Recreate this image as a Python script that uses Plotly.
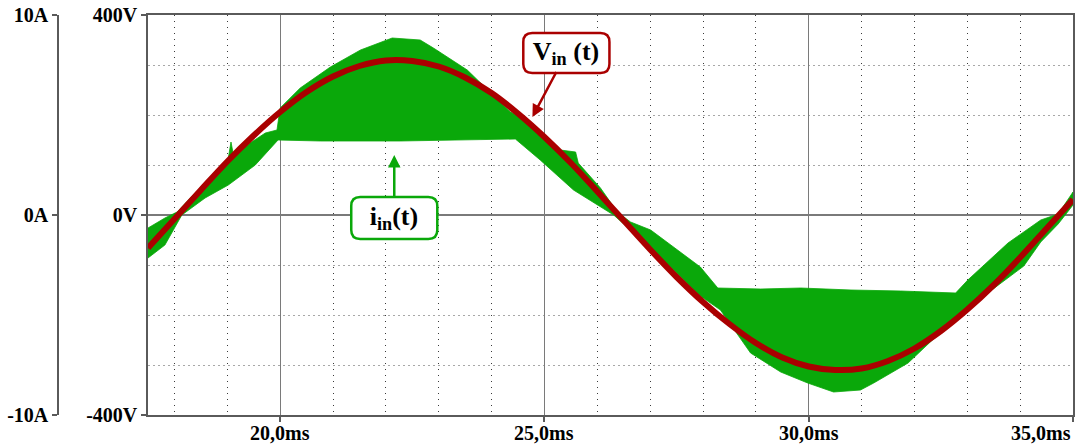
import plotly.graph_objects as go

# ---------------- data ----------------
# input voltage V_in(t): time [ms], voltage [V]
vin_t = [17.5, 18.0, 18.5, 19.0, 19.5, 20.0, 20.5, 21.0, 21.5, 22.0, 22.5, 23.0,
         23.5, 24.0, 24.5, 25.0, 25.5, 26.0, 26.5, 27.0, 27.5, 28.0, 28.5, 29.0,
         29.5, 30.0, 30.5, 31.0, 31.5, 32.0, 32.5, 33.0, 33.5, 34.0, 34.5, 35.0]
vin_v = [-66, -8, 50, 107, 159, 206, 246, 277, 298, 309, 308, 297,
         275, 244, 203, 156, 104, 47, -11, -69, -124, -174, -218, -256,
         -285, -303, -310, -307, -292, -267, -232, -189, -140, -85, -27, 31]

# input current i_in(t): switching ripple band, upper envelope [ms, A]
iup_t = [17.50, 17.82, 18.05, 18.48, 19.02, 19.07, 19.12, 19.43, 19.72, 19.94, 20.00,
         20.38, 20.95, 21.52, 22.12, 22.65, 22.90, 23.54, 24.17, 24.36, 24.79,
         25.30, 25.59, 25.64, 26.06, 26.38, 26.63, 27.01, 27.95, 28.28, 29.09,
         29.85, 30.80, 31.74, 32.78, 33.01, 33.77, 34.39, 34.72, 35.00]
iup_a = [-0.65, -0.15, 0.15, 1.35, 2.85, 3.65, 2.95, 3.60, 4.10, 4.25, 5.35,
         6.35, 7.40, 8.25, 8.85, 8.75, 8.35, 7.25, 5.65, 5.15, 4.55,
         3.25, 3.15, 2.60, 1.35, 0.15, -0.35, -0.75, -2.60, -3.65, -3.70,
         -3.65, -3.75, -3.80, -3.90, -3.25, -1.40, -0.25, 0.05, 1.15]
# lower envelope [ms, A]
ilo_t = [17.50, 17.82, 18.14, 18.58, 19.02, 19.53, 19.96, 20.76, 22.27, 23.41,
         24.45, 24.92, 25.55, 26.31, 26.63, 27.01, 27.95, 28.33, 28.90, 29.47,
         29.98, 30.47, 30.98, 31.23, 31.88, 32.50, 33.01, 33.64, 34.07, 34.39,
         34.72, 35.00]
ilo_a = [-2.15, -1.50, 0.00, 0.85, 1.50, 2.50, 3.75, 3.70, 3.70, 3.75,
         3.80, 2.75, 1.25, 0.00, -0.75, -1.65, -4.05, -4.75, -6.90, -7.85,
         -8.40, -8.85, -8.75, -8.40, -7.40, -5.85, -4.65, -3.40, -2.55, -1.35,
         -0.45, 0.50]

x_tickvals = [20, 25, 30, 35]
x_ticktext = ["20,0ms", "25,0ms", "30,0ms", "35,0ms"]
v_tickvals = [-400, 0, 400]
v_ticktext = ["-400V", "0V", "400V"]
a_tickvals = [-10, 0, 10]
a_ticktext = ["-10A", "0A", "10A"]

# ---------------- styles ----------------
GREEN = "rgb(10,168,10)"
RED = "rgb(170,0,0)"
AXIS = "#5a5a5a"
FONT = dict(family="Liberation Serif", size=20, color="black", weight="bold")

fig = go.Figure()

# current band (base axis = amps)
fig.add_trace(go.Scatter(
    x=iup_t + ilo_t[::-1], y=iup_a + ilo_a[::-1],
    mode="lines", fill="toself", fillcolor=GREEN,
    line=dict(color=GREEN, width=0.8),
    xaxis="x", yaxis="y", hoverinfo="skip", showlegend=False))

# voltage (overlay axis = volts)
fig.add_trace(go.Scatter(
    x=vin_t, y=vin_v, mode="lines",
    line=dict(color=RED, width=6, shape="spline", smoothing=1.0),
    xaxis="x", yaxis="y2", showlegend=False))


def rrect(x0, x1, y0, y1, rx, ry):
    return (f"M {x0+rx},{y1} L {x1-rx},{y1} Q {x1},{y1} {x1},{y1-ry} "
            f"L {x1},{y0+ry} Q {x1},{y0} {x1-rx},{y0} "
            f"L {x0+rx},{y0} Q {x0},{y0} {x0},{y0+ry} "
            f"L {x0},{y1-ry} Q {x0},{y1} {x0+rx},{y1} Z")


shapes = [
    dict(type="path", xref="x", yref="y2",
         path=rrect(24.60, 26.23, 284, 364, 0.17, 18),
         line=dict(color=RED, width=2.5), fillcolor="white", layer="above"),
    dict(type="path", xref="x", yref="y2",
         path=rrect(21.345, 22.973, -48, 36, 0.17, 18),
         line=dict(color=GREEN, width=2.5), fillcolor="white", layer="above"),
]

ann_font = dict(family="Liberation Serif", size=26, color="black", weight="bold")
annotations = [
    dict(x=24.773, y=196, xref="x", yref="y2",
         text="V<sub>in</sub> (t)", font=ann_font,
         showarrow=True, ax=34, ay=-64, axref="pixel", ayref="pixel",
         arrowcolor=RED, arrowwidth=2.5, arrowhead=2, arrowsize=1,
         width=82, height=36, borderwidth=2, bordercolor="rgba(0,0,0,0)",
         borderpad=0),
    dict(x=22.159, y=120, xref="x", yref="y2",
         text="i<sub>in</sub>(t)", font=ann_font,
         showarrow=True, ax=0, ay=63, axref="pixel", ayref="pixel",
         arrowcolor=GREEN, arrowwidth=2.5, arrowhead=2, arrowsize=1,
         width=82, height=38, borderwidth=2, bordercolor="rgba(0,0,0,0)",
         borderpad=0),
]
# x tick labels as annotations (last one kept inside the figure, right-aligned)
for i, (v, t) in enumerate(zip(x_tickvals, x_ticktext)):
    last = i == len(x_tickvals) - 1
    annotations.append(dict(
        x=v, y=0, xref="x", yref="paper", text=t, font=FONT, showarrow=False,
        xanchor="right" if last else "center", yanchor="top", yshift=-5))

fig.update_layout(
    width=1080, height=448,
    margin=dict(l=58, r=7, t=15, b=33, autoexpand=False),
    paper_bgcolor="white", plot_bgcolor="white",
    showlegend=False,
    shapes=shapes, annotations=annotations,
    xaxis=dict(
        domain=[90 / 1015, 1], range=[17.5, 35.0], automargin=False,
        tickvals=x_tickvals, showticklabels=False,
        ticks="outside", ticklen=5, tickcolor=AXIS, tickwidth=1.5,
        showline=True, linecolor=AXIS, linewidth=1.5, mirror=True,
        showgrid=True, gridcolor="#7a7a7a", gridwidth=1.2,
        zeroline=False,
        minor=dict(dtick=1, tick0=0, showgrid=True, gridcolor="#3a3a3a",
                   gridwidth=1, griddash="1px,5px", ticks=""),
    ),
    yaxis=dict(
        range=[-10, 10], anchor="free", position=0, side="left",
        automargin=False,
        tickvals=a_tickvals, ticktext=a_ticktext, tickfont=FONT,
        ticks="outside", ticklen=5, tickcolor=AXIS, tickwidth=1.5,
        showline=True, linecolor=AXIS, linewidth=1.5,
        showgrid=False, zeroline=False,
    ),
    yaxis2=dict(
        range=[-400, 400], overlaying="y", anchor="x", side="left",
        automargin=False,
        tickvals=v_tickvals, ticktext=v_ticktext, tickfont=FONT,
        ticks="outside", ticklen=5, tickcolor=AXIS, tickwidth=1.5,
        showline=True, linecolor=AXIS, linewidth=1.5, mirror=True,
        showgrid=True, gridcolor="#7a7a7a", gridwidth=1.2,
        zeroline=True, zerolinecolor="#7a7a7a", zerolinewidth=1.5,
        minor=dict(dtick=100, tick0=0, showgrid=True, gridcolor="#a8a8a8",
                   gridwidth=1, griddash="2px,3px", ticks=""),
    ),
)

# the page's default body margin would shift the figure by 8px
fig.write_html(
    "out.html",
    config={"displayModeBar": False},
    post_script="document.body.style.margin='0';document.body.style.padding='0';",
)
